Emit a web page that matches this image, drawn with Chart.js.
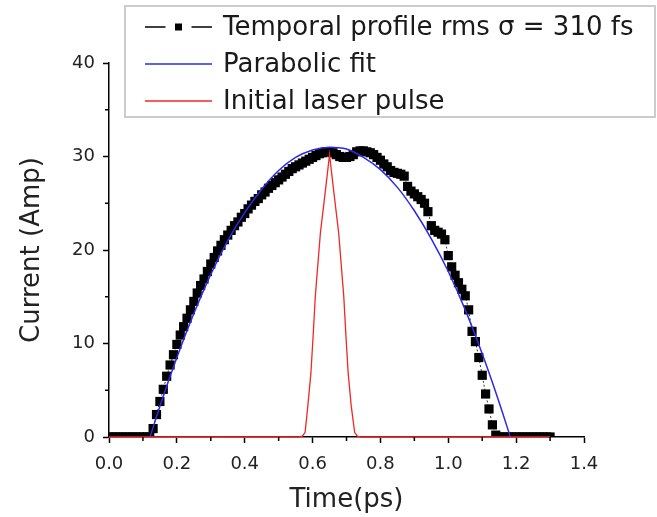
<!DOCTYPE html>
<html>
<head>
<meta charset="utf-8">
<title>Temporal profile</title>
<script src="https://cdn.jsdelivr.net/npm/chart.js"></script>
<style>
    body { margin: 0; background: #fff; }
    #wrap { width: 657px; height: 517px; }
</style>
</head>
<body>
<div id="wrap"><canvas id="profile" width="657" height="517"></canvas></div>
<script>
// measured temporal profile (ps, Amp)
var profileTime = [
    0.00, 0.01, 0.02, 0.03, 0.04, 0.05, 0.06, 0.07, 0.08, 0.09,
    0.10, 0.11, 0.12, 0.13, 0.14, 0.15, 0.16, 0.17, 0.18, 0.19,
    0.20, 0.21, 0.22, 0.23, 0.24, 0.25, 0.26, 0.27, 0.28, 0.29,
    0.30, 0.31, 0.32, 0.33, 0.34, 0.35, 0.36, 0.37, 0.38, 0.39,
    0.40, 0.41, 0.42, 0.43, 0.44, 0.45, 0.46, 0.47, 0.48, 0.49,
    0.50, 0.51, 0.52, 0.53, 0.54, 0.55, 0.56, 0.57, 0.58, 0.59,
    0.60, 0.61, 0.62, 0.63, 0.64, 0.65, 0.66, 0.67, 0.68, 0.69,
    0.70, 0.71, 0.72, 0.73, 0.74, 0.75, 0.76, 0.77, 0.78, 0.79,
    0.80, 0.81, 0.82, 0.83, 0.84, 0.85, 0.86, 0.87, 0.88, 0.89,
    0.90, 0.91, 0.92, 0.93, 0.94, 0.95, 0.96, 0.97, 0.98, 0.99,
    1.00, 1.01, 1.02, 1.03, 1.04, 1.05, 1.06, 1.07, 1.08, 1.09,
    1.10, 1.11, 1.12, 1.13, 1.14, 1.15, 1.16, 1.17, 1.18, 1.19,
    1.20, 1.21, 1.22, 1.23, 1.24, 1.25, 1.26, 1.27, 1.28, 1.29,
    1.30
];
var profileCurrent = [
    0, 0, 0, 0, 0, 0, 0, 0, 0, 0,
    0, 0, 0, 0.9, 2.4, 3.8, 5.1, 6.5, 7.7, 8.8,
    9.9, 10.9, 11.8, 12.7, 13.6, 14.5, 15.4, 16.2, 16.9, 17.7,
    18.5, 19.2, 19.9, 20.5, 21.1, 21.6, 22.1, 22.6, 23.0, 23.5,
    23.9, 24.4, 24.8, 25.2, 25.5, 25.9, 26.2, 26.6, 26.9, 27.2,
    27.5, 27.8, 28.1, 28.4, 28.7, 28.9, 29.1, 29.3, 29.5, 29.7,
    29.9, 30.1, 30.3, 30.4, 30.5, 30.5, 30.4, 30.2, 30.0, 29.9,
    29.9, 30.0, 30.2, 30.5, 30.6, 30.6, 30.5, 30.4, 30.2, 29.9,
    29.6, 29.2, 28.9, 28.5, 28.3, 28.2, 28.1, 27.9, 26.8, 26.3,
    26.0, 25.7, 25.4, 25.0, 24.1, 22.6, 22.1, 21.9, 21.7, 21.1,
    19.4, 18.2, 17.3, 16.5, 15.8, 15.1, 13.6, 11.3, 10.2, 8.5,
    6.6, 4.6, 3.0, 1.3, 0.2, 0, 0, 0, 0, 0,
    0, 0, 0, 0, 0, 0, 0, 0, 0, 0,
    0
];

// parabolic fit
var fitTime = [0.121, 0.15, 0.20, 0.25, 0.30, 0.35, 0.40, 0.45, 0.50, 0.55, 0.60, 0.65,
               0.70, 0.75, 0.80, 0.85, 0.90, 0.95, 1.00, 1.05, 1.10, 1.15, 1.183];
var fitCurrent = [0, 3.3, 8.5, 13.2, 17.4, 21.0, 24.0, 26.5, 28.5, 29.9, 30.7, 31.0,
                  30.8, 29.9, 28.6, 26.7, 24.2, 21.2, 17.7, 13.6, 8.9, 3.7, 0];

// initial laser pulse
var laserTime = [0.00, 0.560, 0.570, 0.578, 0.586, 0.595, 0.601, 0.608, 0.623, 0.638, 0.650,
                 0.662, 0.677, 0.692, 0.699, 0.705, 0.714, 0.724, 0.732, 0.742, 1.30];
var laserCurrent = [0, 0, 0.1, 0.5, 3.3, 6.8, 10.4, 15.0, 21.8, 26.4, 30.2,
                    26.4, 21.8, 15.0, 10.4, 6.8, 3.3, 0.5, 0.1, 0, 0];

var seriesLabels = ["Temporal profile rms \u03c3 = 310 fs", "Parabolic fit", "Initial laser pulse"];

var xTickLabels = ["0.0", "0.2", "0.4", "0.6", "0.8", "1.0", "1.2", "1.4"];
var yTickLabels = ["0", "10", "20", "30", "40"];

var ProfileChart =
{
    init: function()
    {
        Chart.defaults.font.family = "'DejaVu Sans', 'Liberation Sans', sans-serif";
        Chart.defaults.color = "#222";

        var ctx = document.getElementById("profile");
        new Chart(ctx, {
            type: "line",
            data: { datasets: ProfileChart.buildDatasets() },
            options: {
                responsive: false,
                animation: false,
                layout: { padding: { left: 0, right: 73, top: 63, bottom: 0 } },
                plugins: {
                    legend: { display: false },
                    tooltip: { enabled: false }
                },
                scales: {
                    x: {
                        type: "linear",
                        min: 0,
                        max: 1.4,
                        border: { color: "#000", width: 1.5 },
                        grid: { drawOnChartArea: false, tickLength: 6, tickColor: "#000", tickWidth: 1.5 },
                        ticks: {
                            stepSize: 0.2,
                            padding: 11,
                            font: { size: 18 },
                            color: "#222",
                            callback: function(value, index)
                            {
                                return xTickLabels[index];
                            }
                        },
                        title: { display: true, text: "Time(ps)", font: { size: 26 }, color: "#222", padding: { top: 0, bottom: 1 } },
                        afterFit: function(scale) { scale.height = 80; }
                    },
                    y: {
                        min: 0,
                        max: 40,
                        border: { color: "#000", width: 1.5 },
                        grid: { drawOnChartArea: false, tickLength: 6, tickColor: "#000", tickWidth: 1.5 },
                        ticks: {
                            stepSize: 10,
                            padding: 8,
                            font: { size: 18 },
                            color: "#222",
                            callback: function(value, index)
                            {
                                return yTickLabels[index];
                            }
                        },
                        title: { display: true, text: "Current (Amp)", font: { size: 26 }, color: "#222", padding: { top: 17, bottom: 0 } },
                        afterFit: function(scale) { scale.width = 109; }
                    }
                }
            },
            plugins: [ProfileChart.minorTicks, ProfileChart.legendBox]
        });
    },

    toPoints: function(xs, ys)
    {
        var pts = [];
        for (var i = 0; i < xs.length; i++)
        {
            pts.push({ x: xs[i], y: ys[i] });
        }
        return pts;
    },

    buildDatasets: function()
    {
        return [
            {
                label: seriesLabels[0],
                data: ProfileChart.toPoints(profileTime, profileCurrent),
                borderColor: "#333",
                borderWidth: 1,
                borderDash: [2, 2],
                pointStyle: "rect",
                pointRadius: 6.5,
                pointBorderWidth: 0,
                pointBackgroundColor: "#000",
                pointBorderColor: "#000",
                tension: 0,
                order: 3
            },
            {
                label: seriesLabels[1],
                data: ProfileChart.toPoints(fitTime, fitCurrent),
                borderColor: "#2a2ae8",
                borderWidth: 1.5,
                pointRadius: 0,
                cubicInterpolationMode: "monotone",
                clip: false,
                order: 2
            },
            {
                label: seriesLabels[2],
                data: ProfileChart.toPoints(laserTime, laserCurrent),
                borderColor: "#f02828",
                borderWidth: 1.3,
                pointRadius: 0,
                tension: 0,
                clip: false,
                order: 1
            }
        ];
    },

    // short ticks halfway between the labelled ones
    minorTicks: {
        id: "minorTicks",
        afterDraw: function(chart)
        {
            var ctx = chart.ctx;
            var xs = chart.scales.x;
            var ys = chart.scales.y;
            ctx.save();
            ctx.strokeStyle = "#000";
            ctx.lineWidth = 1.5;
            ctx.beginPath();
            for (var i = 0; i < xs.ticks.length - 1; i++)
            {
                var px = xs.getPixelForValue((xs.ticks[i].value + xs.ticks[i + 1].value) / 2);
                ctx.moveTo(px, xs.top);
                ctx.lineTo(px, xs.top + 4);
            }
            for (var j = 0; j < ys.ticks.length - 1; j++)
            {
                var py = ys.getPixelForValue((ys.ticks[j].value + ys.ticks[j + 1].value) / 2);
                ctx.moveTo(ys.right, py);
                ctx.lineTo(ys.right - 4, py);
            }
            ctx.stroke();
            ctx.restore();
        }
    },

    // boxed legend in the top right, drawn like the original plot
    legendBox: {
        id: "legendBox",
        afterDraw: function(chart)
        {
            var ctx = chart.ctx;
            var sets = chart.data.datasets;
            var box = { left: 125, top: 6, width: 530, height: 111 };
            var rows = [27, 64, 101];
            var lineStart = 145, lineEnd = 212, textX = 223;

            ctx.save();
            ctx.fillStyle = "#fff";
            ctx.fillRect(box.left, box.top, box.width, box.height);
            ctx.strokeStyle = "#cccccc";
            ctx.lineWidth = 2;
            ctx.strokeRect(box.left, box.top, box.width, box.height);

            ctx.lineWidth = 1.3;
            for (var i = 0; i < sets.length; i++)
            {
                var y = rows[i];
                ctx.strokeStyle = i === 0 ? "#000" : sets[i].borderColor;
                ctx.beginPath();
                if (i === 0)
                {
                    var mid = (lineStart + lineEnd) / 2;
                    ctx.moveTo(lineStart, y);
                    ctx.lineTo(mid - 13, y);
                    ctx.moveTo(mid + 13, y);
                    ctx.lineTo(lineEnd, y);
                    ctx.stroke();
                    ctx.fillStyle = "#000";
                    ctx.fillRect(mid - 3.5, y - 3.5, 7, 7);
                }
                else
                {
                    ctx.moveTo(lineStart, y);
                    ctx.lineTo(lineEnd, y);
                    ctx.stroke();
                }
                ctx.fillStyle = "#1a1a1a";
                ctx.font = "26px 'DejaVu Sans', 'Liberation Sans', sans-serif";
                ctx.textBaseline = "middle";
                ctx.textAlign = "left";
                ctx.fillText(sets[i].label, textX, y + 1);
            }
            ctx.restore();
        }
    }
};

ProfileChart.init();
</script>
</body>
</html>
